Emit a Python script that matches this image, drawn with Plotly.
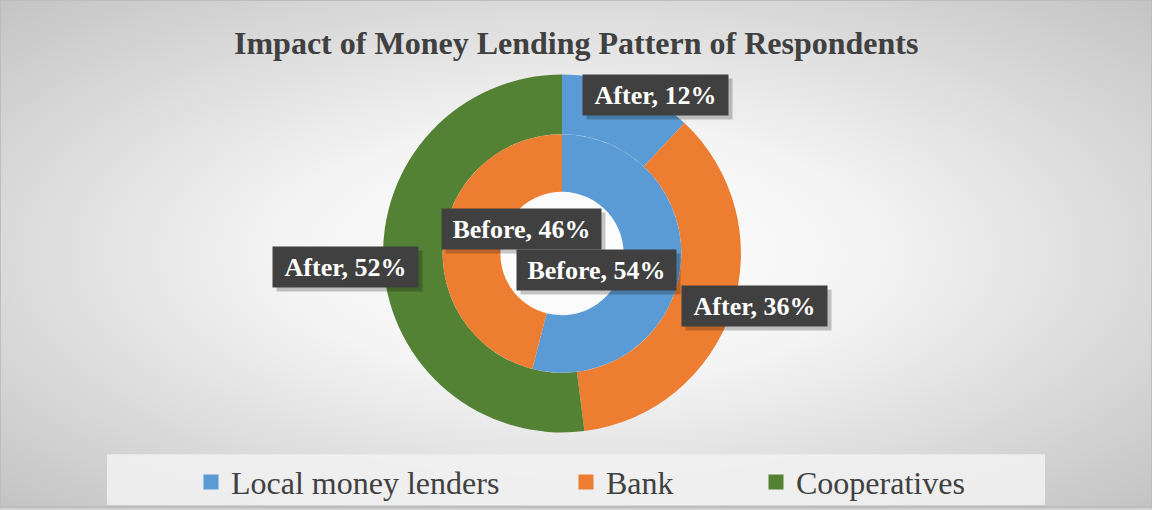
import base64
import plotly.graph_objects as go

# Lending sources and their shares (%) before and after
categories = ["Local money lenders", "Bank", "Cooperatives"]
before_values = [54, 46, 0]
after_values = [12, 36, 52]
colors = ["#5b9bd5", "#ed7d31", "#548235"]

W, H = 1152, 510
title_text = "Impact of Money Lending Pattern of Respondents"
serif = "Liberation Serif"

# Soft radial backdrop rendered as an inline SVG
svg = f"""<svg xmlns='http://www.w3.org/2000/svg' width='{W}' height='{H}' viewBox='0 0 {W} {H}' preserveAspectRatio='none'>
<defs><radialGradient id='g' cx='50%' cy='50%' r='72%' fx='50%' fy='50%'>
<stop offset='0%' stop-color='#ffffff'/>
<stop offset='35%' stop-color='#f4f4f4'/>
<stop offset='100%' stop-color='#c2c2c2'/>
</radialGradient></defs>
<rect width='{W}' height='{H}' fill='url(#g)'/>
</svg>"""
bg_src = "data:image/svg+xml;base64," + base64.b64encode(svg.encode()).decode()

cx, cy = 562, 255          # ring centre, px from top-left
r_outer, r_mid, r_hole = 180, 120, 62


def dom(r):
    return dict(x=[(cx - r) / W, (cx + r) / W],
                y=[(H - cy - r) / H, (H - cy + r) / H])


fig = go.Figure()
fig.add_trace(go.Pie(
    labels=categories, values=after_values, name="After",
    hole=r_mid / r_outer, domain=dom(r_outer),
    sort=False, direction="clockwise", rotation=0,
    marker=dict(colors=colors, line=dict(color="rgba(0,0,0,0)", width=0)),
    textinfo="none", hoverinfo="label+value", showlegend=False,
))
fig.add_trace(go.Pie(
    labels=categories, values=before_values, name="Before",
    hole=r_hole / r_mid, domain=dom(r_mid),
    sort=False, direction="clockwise", rotation=0,
    marker=dict(colors=colors, line=dict(color="rgba(0,0,0,0)", width=0)),
    textinfo="none", hoverinfo="label+value", showlegend=False,
))

# Legend keys, one legend per category so the entries sit apart
legend_ids = ["legend", "legend2", "legend3"]
legend_marker_x = [211, 586, 776]
legend_layout = {}
for cat, col, lid, mx in zip(categories, colors, legend_ids, legend_marker_x):
    fig.add_trace(go.Scatter(
        x=[None], y=[None], mode="markers", name=cat, legend=lid,
        marker=dict(symbol="square", size=15, color=col),
        hoverinfo="skip",
    ))
    legend_layout[lid] = dict(
        x=(mx - 20) / W, xanchor="left", y=25 / H, yanchor="middle",
        bgcolor="rgba(0,0,0,0)", borderwidth=0,
        font=dict(family=serif, size=32, color="#404040"),
    )

# Data-label callouts (series name, value) with a soft drop shadow
label_spots = [
    ("After", after_values[0], 655.5, 96, 141),
    ("After", after_values[2], 345.5, 269, 141),
    ("Before", before_values[1], 521.5, 230.5, 155),
    ("Before", before_values[0], 596, 271.5, 155),
    ("After", after_values[1], 754.5, 308, 141),
]
annotations = []
for series, val, px, py, bw in label_spots:
    common = dict(x=px / W, y=1 - py / H, xref="paper", yref="paper",
                  xanchor="center", yanchor="middle",
                  showarrow=False, borderpad=2, width=bw, height=36)
    annotations.append(dict(common, text="&nbsp;",
                            bgcolor="rgba(0,0,0,0.22)",
                            font=dict(family=serif, size=26),
                            xshift=4, yshift=-4))
    annotations.append(dict(common, text=f"<b>{series}, {val}%</b>",
                            bgcolor="#404040",
                            font=dict(family=serif, size=26,
                                      color="#ffffff")))

annotations.append(dict(
    x=575.5 / W, y=1 - 43 / H, xref="paper", yref="paper", showarrow=False,
    xanchor="center", yanchor="middle",
    text=f"<b>{title_text}</b>",
    font=dict(family=serif, size=32, color="#404040"),
))

fig.update_layout(
    width=W, height=H,
    margin=dict(l=0, r=0, t=0, b=0),
    paper_bgcolor="#d0d0d0",
    plot_bgcolor="rgba(0,0,0,0)",
    xaxis=dict(visible=False),
    yaxis=dict(visible=False),
    images=[dict(source=bg_src, xref="paper", yref="paper", x=0, y=1,
                 sizex=1, sizey=1, sizing="stretch", layer="below")],
    shapes=[
        dict(type="rect", xref="paper", yref="paper",
             x0=107 / W, x1=1045 / W, y0=2 / H, y1=53 / H,
             fillcolor="rgba(242,242,242,0.85)", line=dict(width=0),
             layer="below"),
        dict(type="rect", xref="paper", yref="paper", x0=0, x1=1, y0=0, y1=1,
             line=dict(color="#bdbdbd", width=2), fillcolor="rgba(0,0,0,0)"),
    ],
    annotations=annotations,
    showlegend=True,
    **legend_layout,
)

fig.write_html("out.html")
